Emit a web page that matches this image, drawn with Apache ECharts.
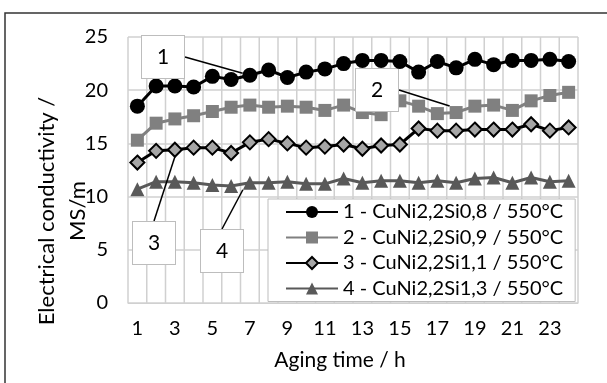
<!DOCTYPE html>
<html lang="en">
<head>
	<meta charset="UTF-8">
	<title>conductivity</title>
	<style type="text/css">
	body,html{
		width: 100%;
		height: 100%;
		margin: 0;
		padding: 0;
		background: #fff;
	}
	#container{
		width: 607px;
		height: 383px;
	}
	</style>
</head>
<body>
	<div id="container"></div>
<script type="text/javascript" src="https://cdn.jsdelivr.net/npm/echarts@6/dist/echarts.min.js"></script>
<script type="text/javascript">
	var hours = ['1','2','3','4','5','6','7','8','9','10','11','12','13','14','15','16','17','18','19','20','21','22','23','24'];
	var names = ['1 - CuNi2,2Si0,8 / 550°C', '2 - CuNi2,2Si0,9 / 550°C', '3 - CuNi2,2Si1,1 / 550°C', '4 - CuNi2,2Si1,3 / 550°C'];
	var alloy1 = [18.5, 20.4, 20.4, 20.3, 21.3, 21.0, 21.4, 21.9, 21.2, 21.7, 22.0, 22.5, 22.8, 22.8, 22.7, 21.7, 22.7, 22.1, 22.9, 22.4, 22.8, 22.8, 22.9, 22.7];
	var alloy2 = [15.3, 16.9, 17.3, 17.6, 18.0, 18.4, 18.6, 18.4, 18.5, 18.4, 18.1, 18.6, 17.9, 17.7, 19.0, 18.5, 17.8, 17.9, 18.5, 18.6, 18.1, 19.0, 19.5, 19.8];
	var alloy3 = [13.2, 14.3, 14.4, 14.6, 14.6, 14.1, 15.1, 15.4, 15.0, 14.6, 14.7, 14.9, 14.5, 14.8, 14.9, 16.4, 16.2, 16.2, 16.3, 16.3, 16.3, 16.8, 16.2, 16.5];
	var alloy4 = [10.7, 11.4, 11.4, 11.3, 11.1, 11.0, 11.3, 11.3, 11.4, 11.2, 11.2, 11.7, 11.3, 11.5, 11.5, 11.3, 11.5, 11.3, 11.7, 11.8, 11.3, 11.8, 11.4, 11.5];
	// callout number -> which point it points at (index in the hours array)
	var calloutIdx = [6, 17, 2, 6];
	// where each callout box sits (pixels)
	var calloutPos = [[163, 57], [377, 90], [154, 243], [222, 251]];

	var font = 'Lato';
	var gridColor = '#d0d0d0';
	var yMax = 25;

	function withCallout(values, k) {
		return values.map(function (v, i) {
			if (i !== calloutIdx[k]) return v;
			return {
				value: v,
				label: {
					show: true,
					formatter: String(k + 1),
					color: '#000',
					fontFamily: font,
					fontSize: 21,
					width: 42,
					height: 42,
					lineHeight: 42,
					align: 'center',
					verticalAlign: 'middle',
					backgroundColor: '#fff',
					borderColor: '#bdbdbd',
					borderWidth: 1
				},
				labelLine: {
					show: true,
					lineStyle: { color: '#000', width: 1.5 }
				}
			};
		});
	}

	function makeSeries(k, values, color, symbol, size, itemStyle) {
		return {
			name: names[k],
			type: 'line',
			data: withCallout(values, k),
			symbol: symbol,
			symbolSize: size,
			showSymbol: true,
			showAllSymbol: true,
			lineStyle: { color: color, width: 3 },
			itemStyle: itemStyle,
			z: 10 - k,
			labelLayout: function (p) {
				if (p.dataIndex !== calloutIdx[k]) return {};
				return { x: calloutPos[k][0], y: calloutPos[k][1], align: 'center', verticalAlign: 'middle' };
			}
		};
	}

	var staticGraphics = [
		{ type: 'rect', shape: { x: 5, y: 13, width: 700, height: 500 }, style: { fill: 'none', stroke: '#333', lineWidth: 1.5 }, silent: true },
		{ type: 'text', x: 62, y: 211, rotation: Math.PI / 2, style: { text: 'Electrical conductivity /\nMS/m', fontFamily: font, fontSize: 22, lineHeight: 31, fill: '#000', align: 'center', verticalAlign: 'middle' } },
		{ type: 'text', x: 340, y: 360, style: { text: 'Aging time / h', fontFamily: font, fontSize: 21, fill: '#000', align: 'center', verticalAlign: 'middle' } }
	];

	var option = {
		backgroundColor: '#fff',
		animation: false,
		grid: {
			left: 128, right: 29, top: 37, bottom: 80
		},
		xAxis: {
			type: 'category',
			data: hours,
			boundaryGap: true,
			axisLine: { lineStyle: { color: gridColor } },
			axisTick: { show: false },
			axisLabel: { interval: 1, color: '#000', fontFamily: font, fontSize: 20, margin: 16 },
			splitLine: { show: false }
		},
		yAxis: {
			type: 'value',
			min: 0, max: yMax, interval: 5,
			axisLine: { show: false },
			axisTick: { show: false },
			axisLabel: { color: '#000', fontFamily: font, fontSize: 20, margin: 20 },
			splitLine: { lineStyle: { color: gridColor, width: 1.5 } }
		},
		legend: {
			orient: 'vertical',
			left: 268, top: 199,
			padding: [3, 12, 3, 17],
			itemWidth: 52, itemHeight: 15, itemGap: 5.5,
			backgroundColor: '#fff',
			borderColor: '#bdbdbd', borderWidth: 1,
			textStyle: { color: '#000', fontFamily: font, fontSize: 20, lineHeight: 20 },
			data: names
		},
		graphic: staticGraphics,
		series: [
			makeSeries(0, alloy1, '#000', 'circle', 15, { color: '#000' }),
			makeSeries(1, alloy2, '#808080', 'rect', 13, { color: '#808080' }),
			makeSeries(2, alloy3, '#000', 'diamond', 14, { color: '#a6a6a6', borderColor: '#000', borderWidth: 2 }),
			makeSeries(3, alloy4, '#595959', 'triangle', 14, { color: '#595959' })
		]
	};
	var chart = echarts.init(document.getElementById('container'));
	chart.setOption(option, true);

	// vertical gridlines between the hour bands, as thin filled rects placed with the axis scales
	var c0 = chart.convertToPixel({ xAxisIndex: 0 }, 0);
	var c1 = chart.convertToPixel({ xAxisIndex: 0 }, 1);
	var yTop = chart.convertToPixel({ yAxisIndex: 0 }, yMax);
	var yBot = chart.convertToPixel({ yAxisIndex: 0 }, 0);
	if (!isFinite(c0) || !isFinite(c1)) { c0 = 128 + 450 / 48; c1 = c0 + 450 / 24; }
	if (!isFinite(yTop) || !isFinite(yBot)) { yTop = 37; yBot = 303; }
	var band = c1 - c0;
	var vLines = [];
	for (var i = 0; i <= hours.length; i++) {
		var x = c0 - band / 2 + i * band;
		vLines.push({
			type: 'rect', silent: true, z: 1,
			shape: { x: x - 0.75, y: yTop, width: 1.5, height: yBot - yTop },
			style: { fill: gridColor }
		});
	}
	chart.setOption({ graphic: staticGraphics.concat(vLines) });
</script>
</body>
</html>
